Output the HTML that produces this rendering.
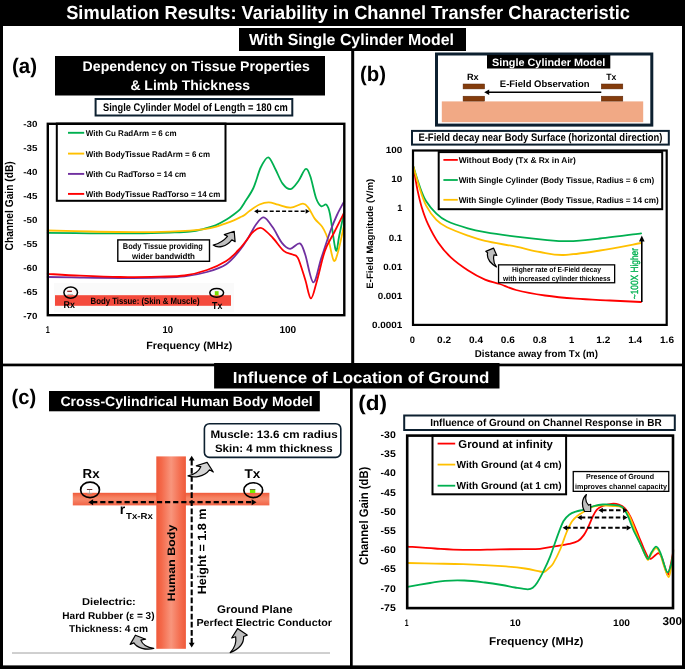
<!DOCTYPE html><html><head><meta charset="utf-8"><style>html,body{margin:0;padding:0;background:#fff;}svg{display:block;will-change:transform;text-rendering:geometricPrecision;}text{font-family:"Liberation Sans",sans-serif;}</style></head><body><svg width="685" height="669" viewBox="0 0 685 669">
<defs><linearGradient id="bodyg" x1="0" x2="1" y1="0" y2="0"><stop offset="0" stop-color="#ef5a3a"/><stop offset="0.18" stop-color="#f4694a"/><stop offset="0.5" stop-color="#f8957c"/><stop offset="0.8" stop-color="#f46e50"/><stop offset="1" stop-color="#ef5a3a"/></linearGradient><linearGradient id="armg" x1="0" x2="0" y1="0" y2="1"><stop offset="0" stop-color="#f05a3a"/><stop offset="0.35" stop-color="#f5805f"/><stop offset="0.5" stop-color="#f6886b"/><stop offset="1" stop-color="#f26446"/></linearGradient></defs>
<rect x="0" y="0" width="685" height="669" fill="#fff" />
<rect x="0" y="0" width="685" height="26" fill="#000" />
<rect x="0" y="0" width="3" height="669" fill="#000" />
<rect x="682" y="0" width="3" height="669" fill="#000" />
<rect x="0" y="665.4" width="685" height="3.6" fill="#000" />
<text x="66.2" y="18.8" font-size="19" font-weight="bold" fill="#fff" textLength="563.8" lengthAdjust="spacingAndGlyphs" font-family="Liberation Sans" >Simulation Results: Variability in Channel Transfer Characteristic</text>
<rect x="239" y="28" width="227" height="23" fill="#000" />
<text x="249.0" y="44.9" font-size="16" font-weight="bold" fill="#fff" textLength="204.9" lengthAdjust="spacingAndGlyphs" font-family="Liberation Sans" >With Single Cylinder Model</text>
<rect x="351.2" y="51" width="3" height="313" fill="#000" />
<rect x="3" y="363.6" width="679" height="2.7" fill="#000" />
<rect x="350" y="388" width="2.7" height="278" fill="#000" />
<text x="12.0" y="72.6" font-size="21" font-weight="bold" fill="#000" textLength="25.0" lengthAdjust="spacingAndGlyphs" font-family="Liberation Sans" >(a)</text>
<rect x="55" y="56" width="270" height="39.5" fill="#000" />
<text x="82.6" y="71.1" font-size="14" font-weight="bold" fill="#fff" textLength="227.2" lengthAdjust="spacingAndGlyphs" font-family="Liberation Sans" >Dependency on Tissue Properties</text>
<text x="130.4" y="90.2" font-size="14" font-weight="bold" fill="#fff" textLength="119.6" lengthAdjust="spacingAndGlyphs" font-family="Liberation Sans" >&amp; Limb Thickness</text>
<rect x="95.60" y="99.00" width="196.70" height="16.50" fill="none" stroke="#0d2030" stroke-width="2" rx="0"/>
<text x="103.0" y="111.3" font-size="11" font-weight="bold" fill="#000" textLength="184.7" lengthAdjust="spacingAndGlyphs" font-family="Liberation Sans" >Single Cylinder Model of Length = 180 cm</text>
<rect x="54" y="283" width="180" height="29" fill="#fafafa" />
<rect x="55" y="295.2" width="176" height="10.6" fill="#f44a3c" />
<text x="90.5" y="303.8" font-size="9" font-weight="bold" fill="#000" textLength="109.0" lengthAdjust="spacingAndGlyphs" font-family="Liberation Sans" >Body Tissue: (Skin &amp; Muscle)</text>
<ellipse cx="70.7" cy="292.6" rx="6.8" ry="5.6" fill="none" stroke="#000" stroke-width="1.5"/>
<rect x="67.2" y="290.7" width="4.7" height="1.2" fill="#8b1a1a" />
<rect x="67.5" y="294" width="5.5" height="1" fill="#b0c0c0" />
<text x="63.6" y="307.6" font-size="9.8" font-weight="bold" fill="#000" textLength="11.4" lengthAdjust="spacingAndGlyphs" font-family="Liberation Sans" >Rx</text>
<ellipse cx="216.7" cy="292.8" rx="6.9" ry="4.4" fill="none" stroke="#000" stroke-width="1.5"/>
<rect x="214.8" y="291.2" width="3.8" height="4.1" fill="#77dd00" />
<rect x="214.8" y="295" width="3.8" height="0.6" fill="#c8b020" />
<text x="212.1" y="308.5" font-size="10.2" font-weight="bold" fill="#000" textLength="10.3" lengthAdjust="spacingAndGlyphs" font-family="Liberation Sans" >Tx</text>
<clipPath id="ca"><rect x="46.6" y="122.6" width="298.9" height="193.79999999999998"/></clipPath>
<g clip-path="url(#ca)">
<path d="M47.50,232.80 C54.58,232.88 75.25,233.20 90.00,233.30 C104.75,233.40 122.67,233.52 136.00,233.40 C149.33,233.28 161.00,232.90 170.00,232.60 C179.00,232.30 184.23,232.25 190.00,231.60 C195.77,230.95 200.35,229.73 204.60,228.70 C208.85,227.67 211.85,226.92 215.50,225.40 C219.15,223.88 223.45,221.42 226.50,219.60 C229.55,217.78 231.55,216.20 233.80,214.50 C236.05,212.80 238.25,211.33 240.00,209.40 C241.75,207.47 242.07,206.47 244.30,202.90 C246.53,199.33 250.67,193.90 253.40,188.00 C256.13,182.10 258.23,172.62 260.70,167.50 C263.17,162.38 265.77,157.05 268.20,157.30 C270.63,157.55 272.90,164.62 275.30,169.00 C277.70,173.38 280.05,180.25 282.60,183.60 C285.15,186.95 287.93,189.58 290.60,189.10 C293.27,188.62 296.10,184.05 298.60,180.70 C301.10,177.35 303.65,169.73 305.60,169.00 C307.55,168.27 308.55,171.43 310.30,176.30 C312.05,181.17 314.28,193.22 316.10,198.20 C317.92,203.18 319.48,205.12 321.20,206.20 C322.92,207.28 324.93,203.37 326.40,204.70 C327.87,206.03 328.45,206.65 330.00,214.20 C331.55,221.75 334.17,246.37 335.70,250.00 C337.23,253.63 337.77,242.57 339.20,236.00 C340.63,229.43 343.45,214.83 344.30,210.60" fill="none" stroke="#00b050" stroke-width="1.8" stroke-linejoin="round" stroke-linecap="round"/>
<path d="M47.50,230.50 C54.58,230.67 75.25,231.23 90.00,231.50 C104.75,231.77 122.67,232.08 136.00,232.10 C149.33,232.12 161.00,231.85 170.00,231.60 C179.00,231.35 184.23,231.02 190.00,230.60 C195.77,230.18 200.35,229.72 204.60,229.10 C208.85,228.48 211.85,227.88 215.50,226.90 C219.15,225.92 223.45,224.30 226.50,223.20 C229.55,222.10 231.55,221.27 233.80,220.30 C236.05,219.33 238.20,218.28 240.00,217.40 C241.80,216.52 242.92,216.15 244.60,215.00 C246.28,213.85 247.62,212.25 250.10,210.50 C252.58,208.75 256.40,205.87 259.50,204.50 C262.60,203.13 265.58,202.27 268.70,202.30 C271.82,202.33 274.55,203.80 278.20,204.70 C281.85,205.60 286.47,207.87 290.60,207.70 C294.73,207.53 299.97,203.58 303.00,203.70 C306.03,203.82 306.85,205.92 308.80,208.40 C310.75,210.88 312.50,215.58 314.70,218.60 C316.90,221.62 320.12,223.93 322.00,226.50 C323.88,229.07 324.77,231.12 326.00,234.00 C327.23,236.88 328.08,239.33 329.40,243.80 C330.72,248.27 332.42,259.62 333.90,260.80 C335.38,261.98 336.57,257.03 338.30,250.90 C340.03,244.77 343.30,228.48 344.30,224.00" fill="none" stroke="#ffc000" stroke-width="1.8" stroke-linejoin="round" stroke-linecap="round"/>
<path d="M47.50,277.00 C52.92,277.10 67.87,277.43 80.00,277.60 C92.13,277.77 106.97,278.00 120.30,278.00 C133.63,278.00 149.30,277.87 160.00,277.60 C170.70,277.33 176.67,277.33 184.50,276.40 C192.33,275.47 200.03,274.03 207.00,272.00 C213.97,269.97 220.80,267.87 226.30,264.20 C231.80,260.53 236.27,254.53 240.00,250.00 C243.73,245.47 246.03,241.25 248.70,237.00 C251.37,232.75 253.48,227.77 256.00,224.50 C258.52,221.23 260.98,216.88 263.80,217.40 C266.62,217.92 269.88,223.35 272.90,227.60 C275.92,231.85 279.05,239.37 281.90,242.90 C284.75,246.43 287.02,248.72 290.00,248.80 C292.98,248.88 297.27,242.45 299.80,243.40 C302.33,244.35 302.95,248.02 305.20,254.50 C307.45,260.98 310.62,281.70 313.30,282.30 C315.98,282.90 318.47,266.62 321.30,258.10 C324.13,249.58 327.68,238.38 330.30,231.20 C332.92,224.02 334.67,220.02 337.00,215.00 C339.33,209.98 343.08,203.42 344.30,201.10" fill="none" stroke="#7030a0" stroke-width="1.8" stroke-linejoin="round" stroke-linecap="round"/>
<path d="M47.50,273.90 C52.92,274.20 67.87,275.18 80.00,275.70 C92.13,276.22 106.97,276.85 120.30,277.00 C133.63,277.15 149.30,276.85 160.00,276.60 C170.70,276.35 176.67,276.60 184.50,275.50 C192.33,274.40 200.03,272.42 207.00,270.00 C213.97,267.58 221.13,264.25 226.30,261.00 C231.47,257.75 234.80,253.72 238.00,250.50 C241.20,247.28 243.00,244.78 245.50,241.70 C248.00,238.62 250.37,234.28 253.00,232.00 C255.63,229.72 257.98,227.00 261.30,228.00 C264.62,229.00 269.17,234.18 272.90,238.00 C276.63,241.82 280.42,248.15 283.70,250.90 C286.98,253.65 290.22,253.30 292.60,254.50 C294.98,255.70 295.90,253.92 298.00,258.10 C300.10,262.28 303.05,272.88 305.20,279.60 C307.35,286.32 308.97,298.10 310.90,298.40 C312.83,298.70 314.47,289.32 316.80,281.40 C319.13,273.48 322.05,258.97 324.90,250.90 C327.75,242.83 330.67,239.42 333.90,233.00 C337.13,226.58 342.57,215.83 344.30,212.40" fill="none" stroke="#ff0000" stroke-width="1.8" stroke-linejoin="round" stroke-linecap="round"/>
</g>
<line x1="257.30" y1="211.30" x2="306.40" y2="211.30" stroke="#000" stroke-width="1.6" stroke-dasharray="4 2.2"/>
<path d="M309.60,211.30 L305.60,213.70 L305.60,208.90 Z" fill="#000"/>
<path d="M254.10,211.30 L258.10,208.90 L258.10,213.70 Z" fill="#000"/>
<rect x="117.80" y="239.90" width="91.70" height="21.40" fill="none" stroke="#000" stroke-width="1.4" rx="0"/>
<text x="122.8" y="248.9" font-size="8.3" font-weight="bold" fill="#000" textLength="80.1" lengthAdjust="spacingAndGlyphs" font-family="Liberation Sans" >Body Tissue providing</text>
<text x="132.0" y="258.6" font-size="8.3" font-weight="bold" fill="#000" textLength="63.0" lengthAdjust="spacingAndGlyphs" font-family="Liberation Sans" >wider bandwidth</text>
<path d="M213.2,245.1 C218,248.6 226.5,246.8 231.8,239.8 L235.1,241.6 L234.2,231.3 L224.3,234.6 L227.5,236.3 C224,240.5 219,243.5 213.2,245.1 Z" fill="#bfbfbf" stroke="#000" stroke-width="1.2" stroke-linejoin="round"/>
<rect x="56.80" y="123.60" width="168.70" height="77.20" fill="none" stroke="#000" stroke-width="2" rx="0"/>
<line x1="68" y1="132.8" x2="84.2" y2="132.8" stroke="#00b050" stroke-width="1.9" />
<text x="85.8" y="135.7" font-size="8.2" font-weight="bold" fill="#000" textLength="90.7" lengthAdjust="spacingAndGlyphs" font-family="Liberation Sans" >With Cu RadArm = 6 cm</text>
<line x1="68" y1="153.6" x2="84.2" y2="153.6" stroke="#ffc000" stroke-width="1.9" />
<text x="85.8" y="156.5" font-size="8.2" font-weight="bold" fill="#000" textLength="124.2" lengthAdjust="spacingAndGlyphs" font-family="Liberation Sans" >With BodyTissue RadArm = 6 cm</text>
<line x1="68" y1="173.9" x2="84.2" y2="173.9" stroke="#7030a0" stroke-width="1.9" />
<text x="85.8" y="176.8" font-size="8.2" font-weight="bold" fill="#000" textLength="100.4" lengthAdjust="spacingAndGlyphs" font-family="Liberation Sans" >With Cu RadTorso = 14 cm</text>
<line x1="68" y1="193.9" x2="84.2" y2="193.9" stroke="#ff0000" stroke-width="1.9" />
<text x="85.8" y="196.8" font-size="8.2" font-weight="bold" fill="#000" textLength="134.5" lengthAdjust="spacingAndGlyphs" font-family="Liberation Sans" >With BodyTissue RadTorso = 14 cm</text>
<rect x="47.80" y="123.80" width="296.50" height="191.40" fill="none" stroke="#000" stroke-width="2.4" rx="0"/>
<text x="23.2" y="127.0" font-size="8.8" font-weight="bold" fill="#000" textLength="14.2" lengthAdjust="spacingAndGlyphs" font-family="Liberation Sans" >-30</text>
<text x="23.2" y="151.0" font-size="8.8" font-weight="bold" fill="#000" textLength="14.2" lengthAdjust="spacingAndGlyphs" font-family="Liberation Sans" >-35</text>
<text x="23.2" y="175.1" font-size="8.8" font-weight="bold" fill="#000" textLength="14.2" lengthAdjust="spacingAndGlyphs" font-family="Liberation Sans" >-40</text>
<text x="23.2" y="199.1" font-size="8.8" font-weight="bold" fill="#000" textLength="14.2" lengthAdjust="spacingAndGlyphs" font-family="Liberation Sans" >-45</text>
<text x="23.2" y="223.2" font-size="8.8" font-weight="bold" fill="#000" textLength="14.2" lengthAdjust="spacingAndGlyphs" font-family="Liberation Sans" >-50</text>
<text x="23.2" y="247.2" font-size="8.8" font-weight="bold" fill="#000" textLength="14.2" lengthAdjust="spacingAndGlyphs" font-family="Liberation Sans" >-55</text>
<text x="23.2" y="271.3" font-size="8.8" font-weight="bold" fill="#000" textLength="14.2" lengthAdjust="spacingAndGlyphs" font-family="Liberation Sans" >-60</text>
<text x="23.2" y="295.3" font-size="8.8" font-weight="bold" fill="#000" textLength="14.2" lengthAdjust="spacingAndGlyphs" font-family="Liberation Sans" >-65</text>
<text x="23.2" y="319.4" font-size="8.8" font-weight="bold" fill="#000" textLength="14.2" lengthAdjust="spacingAndGlyphs" font-family="Liberation Sans" >-70</text>
<text transform="translate(13.3,250.5) rotate(-90)" x="0" y="0" font-size="11.4" font-weight="bold" fill="#000" textLength="89.2" lengthAdjust="spacingAndGlyphs" font-family="Liberation Sans" >Channel Gain (dB)</text>
<text x="45.7" y="333.0" font-size="10" font-weight="bold" fill="#000" textLength="4.0" lengthAdjust="spacingAndGlyphs" font-family="Liberation Sans" >1</text>
<text x="162.4" y="333.0" font-size="10" font-weight="bold" fill="#000" textLength="10.5" lengthAdjust="spacingAndGlyphs" font-family="Liberation Sans" >10</text>
<text x="279.4" y="333.0" font-size="10" font-weight="bold" fill="#000" textLength="16.8" lengthAdjust="spacingAndGlyphs" font-family="Liberation Sans" >100</text>
<text x="146.3" y="348.5" font-size="10.5" font-weight="bold" fill="#000" textLength="86.0" lengthAdjust="spacingAndGlyphs" font-family="Liberation Sans" >Frequency (MHz)</text>
<text x="360.0" y="80.8" font-size="21" font-weight="bold" fill="#000" textLength="26.0" lengthAdjust="spacingAndGlyphs" font-family="Liberation Sans" >(b)</text>
<rect x="436.50" y="54.00" width="215.30" height="71.10" fill="none" stroke="#0d2030" stroke-width="3" rx="0"/>
<rect x="487" y="55" width="123.3" height="13.5" fill="#000" />
<text x="492.0" y="65.8" font-size="10.7" font-weight="bold" fill="#fff" textLength="113.2" lengthAdjust="spacingAndGlyphs" font-family="Liberation Sans" >Single Cylinder Model</text>
<rect x="441.8" y="101.4" width="201.4" height="20.8" fill="#f1a985" />
<rect x="463.1" y="84" width="21.5" height="4.9" fill="#843c0c" stroke="#5a2508" stroke-width="0.5"/>
<rect x="463.1" y="96.2" width="21.5" height="4.9" fill="#843c0c" stroke="#5a2508" stroke-width="0.5"/>
<rect x="601.3" y="84" width="21.5" height="4.9" fill="#843c0c" stroke="#5a2508" stroke-width="0.5"/>
<rect x="601.3" y="96.2" width="21.5" height="4.9" fill="#843c0c" stroke="#5a2508" stroke-width="0.5"/>
<text x="467.0" y="80.2" font-size="9.2" font-weight="bold" fill="#000" textLength="11.7" lengthAdjust="spacingAndGlyphs" font-family="Liberation Sans" >Rx</text>
<text x="606.3" y="80.2" font-size="9.2" font-weight="bold" fill="#000" textLength="10.1" lengthAdjust="spacingAndGlyphs" font-family="Liberation Sans" >Tx</text>
<text x="499.8" y="87.2" font-size="9.5" font-weight="bold" fill="#000" textLength="89.7" lengthAdjust="spacingAndGlyphs" font-family="Liberation Sans" >E-Field Observation</text>
<line x1="489" y1="92.2" x2="601.3" y2="92.2" stroke="#000" stroke-width="1.5" />
<path d="M484.20,92.20 L489.20,89.40 L489.20,95.00 Z" fill="#000"/>
<rect x="412.00" y="130.90" width="256.80" height="13.70" fill="none" stroke="#0d2030" stroke-width="2" rx="0"/>
<text x="418.4" y="140.6" font-size="11" font-weight="bold" fill="#000" textLength="244.1" lengthAdjust="spacingAndGlyphs" font-family="Liberation Sans" >E-Field decay near Body Surface (horizontal direction)</text>
<clipPath id="cb"><rect x="411.9" y="149.4" width="255.89999999999998" height="176.6"/></clipPath>
<g clip-path="url(#cb)">
<path d="M413.00,165.50 C413.33,167.25 414.23,171.82 415.00,176.00 C415.77,180.18 416.47,185.37 417.60,190.60 C418.73,195.83 420.07,201.82 421.80,207.40 C423.53,212.98 425.22,218.17 428.00,224.10 C430.78,230.03 434.65,237.42 438.50,243.00 C442.35,248.58 446.22,253.07 451.10,257.60 C455.98,262.13 462.15,266.53 467.80,270.20 C473.45,273.87 479.67,277.30 485.00,279.60 C490.33,281.90 494.63,282.27 499.80,284.00 C504.97,285.73 508.47,288.08 516.00,290.00 C523.53,291.92 535.03,294.05 545.00,295.50 C554.97,296.95 564.97,297.87 575.80,298.70 C586.63,299.53 599.13,299.95 610.00,300.50 C620.87,301.05 635.83,301.75 641.00,302.00" fill="none" stroke="#ff0000" stroke-width="1.8" stroke-linejoin="round" stroke-linecap="round"/>
<path d="M413.00,165.50 C414.12,168.98 417.53,180.48 419.70,186.40 C421.87,192.32 423.22,196.47 426.00,201.00 C428.78,205.53 432.92,210.27 436.40,213.60 C439.88,216.93 441.67,218.55 446.90,221.00 C452.13,223.45 461.45,226.45 467.80,228.30 C474.15,230.15 476.97,230.72 485.00,232.10 C493.03,233.48 506.00,235.32 516.00,236.60 C526.00,237.88 536.28,239.03 545.00,239.80 C553.72,240.57 559.13,241.42 568.30,241.20 C577.47,240.98 587.87,239.80 600.00,238.50 C612.13,237.20 634.25,234.25 641.10,233.40" fill="none" stroke="#00b050" stroke-width="1.8" stroke-linejoin="round" stroke-linecap="round"/>
<path d="M413.00,165.50 C414.12,169.33 417.53,181.87 419.70,188.50 C421.87,195.13 423.22,200.07 426.00,205.30 C428.78,210.53 432.92,216.23 436.40,219.90 C439.88,223.57 441.67,224.68 446.90,227.30 C452.13,229.92 461.45,233.33 467.80,235.60 C474.15,237.87 476.97,239.05 485.00,240.90 C493.03,242.75 506.83,244.85 516.00,246.70 C525.17,248.55 532.12,250.62 540.00,252.00 C547.88,253.38 553.30,255.25 563.30,255.00 C573.30,254.75 587.05,252.50 600.00,250.50 C612.95,248.50 634.17,244.25 641.00,243.00" fill="none" stroke="#ffc000" stroke-width="1.8" stroke-linejoin="round" stroke-linecap="round"/>
</g>
<rect x="438.70" y="152.10" width="223.50" height="57.10" fill="none" stroke="#000" stroke-width="2" rx="0"/>
<line x1="443.4" y1="159.9" x2="457.8" y2="159.9" stroke="#ff0000" stroke-width="1.8" />
<text x="458.7" y="163.0" font-size="8.4" font-weight="bold" fill="#000" textLength="117.1" lengthAdjust="spacingAndGlyphs" font-family="Liberation Sans" >Without Body (Tx &amp; Rx in Air)</text>
<line x1="443.4" y1="180" x2="457.8" y2="180" stroke="#00b050" stroke-width="1.8" />
<text x="458.7" y="183.1" font-size="8.4" font-weight="bold" fill="#000" textLength="195.6" lengthAdjust="spacingAndGlyphs" font-family="Liberation Sans" >With Single Cylinder (Body Tissue, Radius = 6 cm)</text>
<line x1="443.4" y1="199.8" x2="457.8" y2="199.8" stroke="#ffc000" stroke-width="1.8" />
<text x="458.7" y="202.9" font-size="8.4" font-weight="bold" fill="#000" textLength="200.1" lengthAdjust="spacingAndGlyphs" font-family="Liberation Sans" >With Single Cylinder (Body Tissue, Radius = 14 cm)</text>
<rect x="413.00" y="150.50" width="253.70" height="174.40" fill="none" stroke="#000" stroke-width="2.2" rx="0"/>
<line x1="641.8" y1="302" x2="641.8" y2="240" stroke="#000" stroke-width="1.6" />
<path d="M641.80,235.50 L644.60,241.50 L639.00,241.50 Z" fill="#000"/>
<text transform="translate(638.4,299.2) rotate(-90)" x="0" y="0" font-size="10.4" font-weight="normal" fill="#00b050" textLength="51.2" lengthAdjust="spacingAndGlyphs" font-family="Liberation Sans" stroke="#00b050" stroke-width="0.35">~100X Higher</text>
<rect x="498.55" y="264.85" width="116.10" height="17.90" fill="none" stroke="#000" stroke-width="1.3" rx="0"/>
<text x="512.0" y="272.1" font-size="7.4" font-weight="bold" fill="#000" textLength="88.9" lengthAdjust="spacingAndGlyphs" font-family="Liberation Sans" >Higher rate of E-Field decay</text>
<text x="503.1" y="281.3" font-size="7.4" font-weight="bold" fill="#000" textLength="107.5" lengthAdjust="spacingAndGlyphs" font-family="Liberation Sans" >with increased cylinder thickness</text>
<path d="M496.4,266.9 C490,263 486.5,258 487.6,252.8 L485.8,251.4 L493.5,248.1 L496.8,255.5 L494,254.8 C493,259 494,263.5 496.4,266.9 Z" fill="#bfbfbf" stroke="#000" stroke-width="1.2" stroke-linejoin="round"/>
<text x="385.7" y="152.8" font-size="9.1" font-weight="bold" fill="#000" textLength="16.5" lengthAdjust="spacingAndGlyphs" font-family="Liberation Sans" >100</text>
<text x="391.2" y="182.1" font-size="9.1" font-weight="bold" fill="#000" textLength="11.0" lengthAdjust="spacingAndGlyphs" font-family="Liberation Sans" >10</text>
<text x="397.2" y="211.3" font-size="9.1" font-weight="bold" fill="#000" textLength="5.0" lengthAdjust="spacingAndGlyphs" font-family="Liberation Sans" >1</text>
<text x="388.7" y="240.6" font-size="9.1" font-weight="bold" fill="#000" textLength="13.5" lengthAdjust="spacingAndGlyphs" font-family="Liberation Sans" >0.1</text>
<text x="383.2" y="269.8" font-size="9.1" font-weight="bold" fill="#000" textLength="19.0" lengthAdjust="spacingAndGlyphs" font-family="Liberation Sans" >0.01</text>
<text x="377.7" y="299.1" font-size="9.1" font-weight="bold" fill="#000" textLength="24.5" lengthAdjust="spacingAndGlyphs" font-family="Liberation Sans" >0.001</text>
<text x="371.9" y="328.3" font-size="9.1" font-weight="bold" fill="#000" textLength="30.3" lengthAdjust="spacingAndGlyphs" font-family="Liberation Sans" >0.0001</text>
<text transform="translate(373.4,288.7) rotate(-90)" x="0" y="0" font-size="9.3" font-weight="bold" fill="#000" textLength="109.9" lengthAdjust="spacingAndGlyphs" font-family="Liberation Sans" >E-Field Magnitude (V/m)</text>
<text x="409.7" y="342.9" font-size="9.4" font-weight="bold" fill="#000" textLength="5.2" lengthAdjust="spacingAndGlyphs" font-family="Liberation Sans" >0</text>
<text x="437.1" y="342.9" font-size="9.4" font-weight="bold" fill="#000" textLength="14.0" lengthAdjust="spacingAndGlyphs" font-family="Liberation Sans" >0.2</text>
<text x="469.0" y="342.9" font-size="9.4" font-weight="bold" fill="#000" textLength="14.0" lengthAdjust="spacingAndGlyphs" font-family="Liberation Sans" >0.4</text>
<text x="500.8" y="342.9" font-size="9.4" font-weight="bold" fill="#000" textLength="14.0" lengthAdjust="spacingAndGlyphs" font-family="Liberation Sans" >0.6</text>
<text x="532.7" y="342.9" font-size="9.4" font-weight="bold" fill="#000" textLength="14.0" lengthAdjust="spacingAndGlyphs" font-family="Liberation Sans" >0.8</text>
<text x="568.9" y="342.9" font-size="9.4" font-weight="bold" fill="#000" textLength="5.2" lengthAdjust="spacingAndGlyphs" font-family="Liberation Sans" >1</text>
<text x="596.3" y="342.9" font-size="9.4" font-weight="bold" fill="#000" textLength="14.0" lengthAdjust="spacingAndGlyphs" font-family="Liberation Sans" >1.2</text>
<text x="628.2" y="342.9" font-size="9.4" font-weight="bold" fill="#000" textLength="14.0" lengthAdjust="spacingAndGlyphs" font-family="Liberation Sans" >1.4</text>
<text x="660.0" y="342.9" font-size="9.4" font-weight="bold" fill="#000" textLength="14.0" lengthAdjust="spacingAndGlyphs" font-family="Liberation Sans" >1.6</text>
<text x="474.8" y="357.4" font-size="10" font-weight="bold" fill="#000" textLength="123.2" lengthAdjust="spacingAndGlyphs" font-family="Liberation Sans" >Distance away from Tx (m)</text>
<text x="214.1" y="0.0" font-size="1" font-weight="bold" fill="#000" textLength="285.4" lengthAdjust="spacingAndGlyphs" font-family="Liberation Sans" ></text>
<rect x="214.1" y="363" width="285.4" height="25.5" fill="#000" />
<text x="232.8" y="382.7" font-size="16" font-weight="bold" fill="#fff" textLength="256.6" lengthAdjust="spacingAndGlyphs" font-family="Liberation Sans" >Influence of Location of Ground</text>
<text x="11.6" y="404.0" font-size="21" font-weight="bold" fill="#000" textLength="24.6" lengthAdjust="spacingAndGlyphs" font-family="Liberation Sans" >(c)</text>
<rect x="49" y="391" width="270.8" height="20.3" fill="#000" />
<text x="60.4" y="406.0" font-size="13.6" font-weight="bold" fill="#fff" textLength="252.4" lengthAdjust="spacingAndGlyphs" font-family="Liberation Sans" >Cross-Cylindrical Human Body Model</text>
<rect x="204.40" y="423.70" width="136.40" height="33.70" fill="none" stroke="#0d2030" stroke-width="1.6" rx="5"/>
<text x="210.4" y="438.4" font-size="10.8" font-weight="bold" fill="#000" textLength="127.2" lengthAdjust="spacingAndGlyphs" font-family="Liberation Sans" >Muscle: 13.6 cm radius</text>
<text x="214.9" y="452.4" font-size="10.8" font-weight="bold" fill="#000" textLength="117.7" lengthAdjust="spacingAndGlyphs" font-family="Liberation Sans" >Skin: 4 mm thickness</text>
<line x1="12" y1="653" x2="330" y2="653" stroke="#a0a0a0" stroke-width="1" />
<rect x="72.8" y="492.8" width="196.6" height="12.6" fill="url(#armg)" />
<rect x="156.3" y="456.4" width="29.6" height="192.4" fill="url(#bodyg)" />
<ellipse cx="90.05" cy="489.9" rx="9.4" ry="7.7" fill="none" stroke="#000" stroke-width="1.7"/>
<rect x="86.9" y="489" width="5.4" height="0.9" fill="#5a2020" />
<rect x="89.3" y="490" width="0.7" height="3.2" fill="#90a8a0" />
<rect x="87.2" y="493" width="5" height="0.7" fill="#90a8a0" />
<ellipse cx="253.25" cy="490.15" rx="9.4" ry="7.4" fill="none" stroke="#000" stroke-width="1.7"/>
<rect x="249.9" y="489.3" width="5.4" height="3.7" fill="#77ee00" />
<rect x="249.9" y="489.1" width="5.4" height="0.7" fill="#503030" />
<text x="82.6" y="477.6" font-size="13" font-weight="bold" fill="#000" textLength="17.0" lengthAdjust="spacingAndGlyphs" font-family="Liberation Sans" >Rx</text>
<text x="244.6" y="477.9" font-size="12.6" font-weight="bold" fill="#000" textLength="15.8" lengthAdjust="spacingAndGlyphs" font-family="Liberation Sans" >Tx</text>
<line x1="92.14" y1="502.20" x2="252.66" y2="502.20" stroke="#000" stroke-width="2.3" stroke-dasharray="5.2 2.9"/>
<path d="M256.50,502.20 L251.70,505.20 L251.70,499.20 Z" fill="#000"/>
<path d="M88.30,502.20 L93.10,499.20 L93.10,505.20 Z" fill="#000"/>
<line x1="191.70" y1="643.76" x2="191.70" y2="459.64" stroke="#000" stroke-width="2.1" stroke-dasharray="5.7 2.4"/>
<path d="M191.70,455.80 L194.60,460.60 L188.80,460.60 Z" fill="#000"/>
<path d="M191.70,647.60 L188.80,642.80 L194.60,642.80 Z" fill="#000"/>
<text x="119.8" y="514.3" font-size="14" font-weight="bold" font-family="Liberation Sans">r</text>
<text x="126.0" y="518.7" font-size="8.8" font-weight="bold" fill="#000" textLength="26.8" lengthAdjust="spacingAndGlyphs" font-family="Liberation Sans" >Tx-Rx</text>
<text transform="translate(175.3,601.2) rotate(-90)" x="0" y="0" font-size="10.8" font-weight="bold" fill="#000" textLength="76.5" lengthAdjust="spacingAndGlyphs" font-family="Liberation Sans" >Human Body</text>
<text transform="translate(205.9,594.3) rotate(-90)" x="0" y="0" font-size="12" font-weight="bold" fill="#000" textLength="85.8" lengthAdjust="spacingAndGlyphs" font-family="Liberation Sans" >Height = 1.8 m</text>
<text x="82.0" y="605.3" font-size="10" font-weight="bold" fill="#000" textLength="53.8" lengthAdjust="spacingAndGlyphs" font-family="Liberation Sans" >Dielectric:</text>
<text x="62.3" y="618.6" font-size="10" font-weight="bold" fill="#000" textLength="92.2" lengthAdjust="spacingAndGlyphs" font-family="Liberation Sans" >Hard Rubber (ε = 3)</text>
<text x="69.0" y="631.6" font-size="10" font-weight="bold" fill="#000" textLength="79.0" lengthAdjust="spacingAndGlyphs" font-family="Liberation Sans" >Thickness: 4 cm</text>
<text x="217.0" y="613.3" font-size="11" font-weight="bold" fill="#000" textLength="75.6" lengthAdjust="spacingAndGlyphs" font-family="Liberation Sans" >Ground Plane</text>
<text x="196.4" y="626.3" font-size="10.2" font-weight="bold" fill="#000" textLength="135.6" lengthAdjust="spacingAndGlyphs" font-family="Liberation Sans" >Perfect Electric Conductor</text>
<path d="M153.8,648.4 C146,650.5 137,648 133.9,642.9 L130.2,644.4 L135.4,635.2 L145.6,639.2 L140.9,640.2 C142,644 147,647.5 153.8,648.4 Z" fill="#bfbfbf" stroke="#000" stroke-width="1.2" stroke-linejoin="round"/>
<path d="M230.2,652.6 C238,649.5 244,644 243.6,636.5 L247.2,635.1 L237.6,628.6 L231.7,638 L235.7,636.8 C236.5,642 234.5,648 230.2,652.6 Z" fill="#bfbfbf" stroke="#000" stroke-width="1.2" stroke-linejoin="round"/>
<path d="M188,475.9 C194,478 204,477 209.5,469.8 L213.3,472 L207.1,462.4 L196.3,465.8 L200.8,466.7 C199,471 194,474.5 188,475.9 Z" fill="#d4d4d4" stroke="#000" stroke-width="1.2" stroke-linejoin="round"/>
<text x="358.2" y="409.9" font-size="21" font-weight="bold" fill="#000" textLength="28.8" lengthAdjust="spacingAndGlyphs" font-family="Liberation Sans" >(d)</text>
<rect x="404.20" y="415.50" width="270.60" height="14.50" fill="none" stroke="#0d2030" stroke-width="2" rx="0"/>
<text x="430.2" y="426.4" font-size="10.3" font-weight="bold" fill="#000" textLength="231.5" lengthAdjust="spacingAndGlyphs" font-family="Liberation Sans" >Influence of Ground on Channel Response in BR</text>
<clipPath id="cd"><rect x="405.9" y="434.3" width="268.4" height="175.09999999999997"/></clipPath>
<g clip-path="url(#cd)">
<path d="M407.50,546.60 C412.08,546.92 425.75,547.97 435.00,548.50 C444.25,549.03 452.17,549.67 463.00,549.80 C473.83,549.93 489.67,549.40 500.00,549.30 C510.33,549.20 518.33,549.28 525.00,549.20 C531.67,549.12 535.07,549.27 540.00,548.80 C544.93,548.33 549.73,547.22 554.60,546.40 C559.47,545.58 565.30,544.80 569.20,543.90 C573.10,543.00 575.57,542.47 578.00,541.00 C580.43,539.53 582.10,537.42 583.80,535.10 C585.50,532.78 586.73,530.13 588.20,527.10 C589.67,524.07 591.15,519.82 592.60,516.90 C594.05,513.98 595.20,511.42 596.90,509.60 C598.60,507.78 600.37,506.97 602.80,506.00 C605.23,505.03 608.83,504.05 611.50,503.80 C614.17,503.55 616.60,503.78 618.80,504.50 C621.00,505.22 622.75,506.03 624.70,508.10 C626.65,510.17 628.15,512.17 630.50,516.90 C632.85,521.63 636.53,531.10 638.80,536.50 C641.07,541.90 642.52,545.77 644.10,549.30 C645.68,552.83 647.08,556.17 648.30,557.70 C649.52,559.23 650.18,558.93 651.40,558.50 C652.62,558.07 654.38,555.98 655.60,555.10 C656.82,554.22 657.65,552.77 658.70,553.20 C659.75,553.63 660.67,554.68 661.90,557.70 C663.13,560.72 665.05,568.53 666.10,571.30 C667.15,574.07 667.33,575.87 668.20,574.30 C669.07,572.73 670.42,565.95 671.30,561.90 C672.18,557.85 673.13,551.98 673.50,550.00" fill="none" stroke="#ff0000" stroke-width="1.8" stroke-linejoin="round" stroke-linecap="round"/>
<path d="M407.50,563.00 C412.08,563.10 425.75,563.40 435.00,563.60 C444.25,563.80 451.83,563.77 463.00,564.20 C474.17,564.63 491.67,565.48 502.00,566.20 C512.33,566.92 518.67,567.62 525.00,568.50 C531.33,569.38 536.77,570.95 540.00,571.50 C543.23,572.05 542.98,572.30 544.40,571.80 C545.82,571.30 547.05,569.87 548.50,568.50 C549.95,567.13 551.12,566.85 553.10,563.60 C555.08,560.35 558.20,554.10 560.40,549.00 C562.60,543.90 564.35,537.62 566.30,533.00 C568.25,528.38 570.15,524.23 572.10,521.30 C574.05,518.37 576.05,516.98 578.00,515.40 C579.95,513.82 581.62,513.13 583.80,511.80 C585.98,510.47 588.67,508.45 591.10,507.40 C593.53,506.35 594.75,505.73 598.40,505.50 C602.05,505.27 609.10,505.68 613.00,506.00 C616.90,506.32 619.13,505.83 621.80,507.40 C624.47,508.97 626.82,511.63 629.00,515.40 C631.18,519.17 632.90,524.98 634.90,530.00 C636.90,535.02 639.23,541.25 641.00,545.50 C642.77,549.75 644.32,553.08 645.50,555.50 C646.68,557.92 647.12,560.28 648.10,560.00 C649.08,559.72 650.07,555.77 651.40,553.80 C652.73,551.83 654.62,548.17 656.10,548.20 C657.58,548.23 658.98,551.03 660.30,554.00 C661.62,556.97 662.60,562.15 664.00,566.00 C665.40,569.85 667.48,577.10 668.70,577.10 C669.92,577.10 670.50,570.02 671.30,566.00 C672.10,561.98 673.13,555.17 673.50,553.00" fill="none" stroke="#ffc000" stroke-width="1.8" stroke-linejoin="round" stroke-linecap="round"/>
<path d="M407.50,586.80 C411.25,586.17 423.75,584.00 430.00,583.00 C436.25,582.00 439.27,581.22 445.00,580.80 C450.73,580.38 457.73,580.22 464.40,580.50 C471.07,580.78 478.73,581.75 485.00,582.50 C491.27,583.25 497.00,584.17 502.00,585.00 C507.00,585.83 510.72,586.78 515.00,587.50 C519.28,588.22 524.70,589.28 527.70,589.30 C530.70,589.32 531.40,588.73 533.00,587.60 C534.60,586.47 535.65,585.03 537.30,582.50 C538.95,579.97 540.75,576.77 542.90,572.40 C545.05,568.03 547.77,562.38 550.20,556.30 C552.63,550.22 555.30,541.73 557.50,535.90 C559.70,530.07 561.45,524.83 563.40,521.30 C565.35,517.77 567.02,516.35 569.20,514.70 C571.38,513.05 574.07,512.25 576.50,511.40 C578.93,510.55 580.88,510.50 583.80,509.60 C586.72,508.70 590.83,506.85 594.00,506.00 C597.17,505.15 599.63,504.68 602.80,504.50 C605.97,504.32 609.83,504.53 613.00,504.90 C616.17,505.27 619.37,504.95 621.80,506.70 C624.23,508.45 625.67,511.52 627.60,515.40 C629.53,519.28 631.18,525.05 633.40,530.00 C635.62,534.95 638.95,541.00 640.90,545.10 C642.85,549.20 643.90,552.28 645.10,554.60 C646.30,556.92 647.05,559.35 648.10,559.00 C649.15,558.65 650.07,554.55 651.40,552.50 C652.73,550.45 654.62,546.70 656.10,546.70 C657.58,546.70 658.98,549.62 660.30,552.50 C661.62,555.38 662.78,560.68 664.00,564.00 C665.22,567.32 666.38,572.40 667.60,572.40 C668.82,572.40 670.32,567.57 671.30,564.00 C672.28,560.43 673.13,553.17 673.50,551.00" fill="none" stroke="#00b050" stroke-width="1.8" stroke-linejoin="round" stroke-linecap="round"/>
</g>
<line x1="602.00" y1="510.30" x2="624.00" y2="510.30" stroke="#000" stroke-width="2" stroke-dasharray="4.5 2.5"/>
<path d="M627.60,510.30 L623.10,512.90 L623.10,507.70 Z" fill="#000"/>
<path d="M598.40,510.30 L602.90,507.70 L602.90,512.90 Z" fill="#000"/>
<line x1="580.80" y1="517.60" x2="624.00" y2="517.60" stroke="#000" stroke-width="2" stroke-dasharray="4.5 2.5"/>
<path d="M627.60,517.60 L623.10,520.20 L623.10,515.00 Z" fill="#000"/>
<path d="M577.20,517.60 L581.70,515.00 L581.70,520.20 Z" fill="#000"/>
<line x1="566.20" y1="527.80" x2="627.60" y2="527.80" stroke="#000" stroke-width="2" stroke-dasharray="4.5 2.5"/>
<path d="M631.20,527.80 L626.70,530.40 L626.70,525.20 Z" fill="#000"/>
<path d="M562.60,527.80 L567.10,525.20 L567.10,530.40 Z" fill="#000"/>
<rect x="573.25" y="471.55" width="95.50" height="19.80" fill="none" stroke="#000" stroke-width="1.3" rx="0"/>
<text x="586.0" y="478.9" font-size="7.4" font-weight="bold" fill="#000" textLength="68.0" lengthAdjust="spacingAndGlyphs" font-family="Liberation Sans" >Presence of Ground</text>
<text x="575.0" y="488.6" font-size="7.4" font-weight="bold" fill="#000" textLength="92.0" lengthAdjust="spacingAndGlyphs" font-family="Liberation Sans" >improves channel capacity</text>
<path d="M586.4,494.5 C581.5,499 581.5,506 584.6,511.5 L590.7,511.5 L590.7,504.3 L588.5,505.2 C586,502.5 585,498.5 586.4,494.5 Z" fill="#bfbfbf" stroke="#000" stroke-width="1.2" stroke-linejoin="round"/>
<rect x="432.50" y="435.50" width="133.60" height="58.80" fill="none" stroke="#000" stroke-width="2" rx="0"/>
<line x1="437.6" y1="443.6" x2="455.2" y2="443.6" stroke="#ff0000" stroke-width="1.8" />
<text x="458.3" y="448.2" font-size="11.5" font-weight="bold" fill="#000" textLength="94.6" lengthAdjust="spacingAndGlyphs" font-family="Liberation Sans" >Ground at infinity</text>
<line x1="437.6" y1="464.6" x2="455.2" y2="464.6" stroke="#ffc000" stroke-width="1.8" />
<text x="456.5" y="468.4" font-size="10.1" font-weight="bold" fill="#000" textLength="105.1" lengthAdjust="spacingAndGlyphs" font-family="Liberation Sans" >With Ground (at 4 cm)</text>
<line x1="437.6" y1="485.7" x2="455.2" y2="485.7" stroke="#00b050" stroke-width="1.8" />
<text x="456.5" y="488.9" font-size="10.1" font-weight="bold" fill="#000" textLength="105.1" lengthAdjust="spacingAndGlyphs" font-family="Liberation Sans" >With Ground (at 1 cm)</text>
<rect x="407.20" y="435.60" width="265.80" height="172.50" fill="none" stroke="#000" stroke-width="2.6" rx="0"/>
<text x="380.6" y="438.0" font-size="9.7" font-weight="bold" fill="#000" textLength="15.2" lengthAdjust="spacingAndGlyphs" font-family="Liberation Sans" >-30</text>
<text x="380.6" y="457.2" font-size="9.7" font-weight="bold" fill="#000" textLength="15.2" lengthAdjust="spacingAndGlyphs" font-family="Liberation Sans" >-35</text>
<text x="380.6" y="476.4" font-size="9.7" font-weight="bold" fill="#000" textLength="15.2" lengthAdjust="spacingAndGlyphs" font-family="Liberation Sans" >-40</text>
<text x="380.6" y="495.6" font-size="9.7" font-weight="bold" fill="#000" textLength="15.2" lengthAdjust="spacingAndGlyphs" font-family="Liberation Sans" >-45</text>
<text x="380.6" y="514.8" font-size="9.7" font-weight="bold" fill="#000" textLength="15.2" lengthAdjust="spacingAndGlyphs" font-family="Liberation Sans" >-50</text>
<text x="380.6" y="534.0" font-size="9.7" font-weight="bold" fill="#000" textLength="15.2" lengthAdjust="spacingAndGlyphs" font-family="Liberation Sans" >-55</text>
<text x="380.6" y="553.2" font-size="9.7" font-weight="bold" fill="#000" textLength="15.2" lengthAdjust="spacingAndGlyphs" font-family="Liberation Sans" >-60</text>
<text x="380.6" y="572.4" font-size="9.7" font-weight="bold" fill="#000" textLength="15.2" lengthAdjust="spacingAndGlyphs" font-family="Liberation Sans" >-65</text>
<text x="380.6" y="591.6" font-size="9.7" font-weight="bold" fill="#000" textLength="15.2" lengthAdjust="spacingAndGlyphs" font-family="Liberation Sans" >-70</text>
<text x="380.6" y="610.8" font-size="9.7" font-weight="bold" fill="#000" textLength="15.2" lengthAdjust="spacingAndGlyphs" font-family="Liberation Sans" >-75</text>
<text transform="translate(368.4,564.9) rotate(-90)" x="0" y="0" font-size="12.4" font-weight="bold" fill="#000" textLength="98.2" lengthAdjust="spacingAndGlyphs" font-family="Liberation Sans" >Channel Gain (dB)</text>
<text x="404.7" y="626.3" font-size="9.6" font-weight="bold" fill="#000" textLength="3.8" lengthAdjust="spacingAndGlyphs" font-family="Liberation Sans" >1</text>
<text x="509.7" y="626.3" font-size="9.6" font-weight="bold" fill="#000" textLength="11.0" lengthAdjust="spacingAndGlyphs" font-family="Liberation Sans" >10</text>
<text x="613.0" y="626.3" font-size="9.6" font-weight="bold" fill="#000" textLength="17.0" lengthAdjust="spacingAndGlyphs" font-family="Liberation Sans" >100</text>
<text x="662.4" y="624.9" font-size="11.4" font-weight="bold" fill="#000" textLength="19.6" lengthAdjust="spacingAndGlyphs" font-family="Liberation Sans" >300</text>
<text x="489.0" y="644.6" font-size="11.2" font-weight="bold" fill="#000" textLength="94.4" lengthAdjust="spacingAndGlyphs" font-family="Liberation Sans" >Frequency (MHz)</text>
</svg></body></html>
